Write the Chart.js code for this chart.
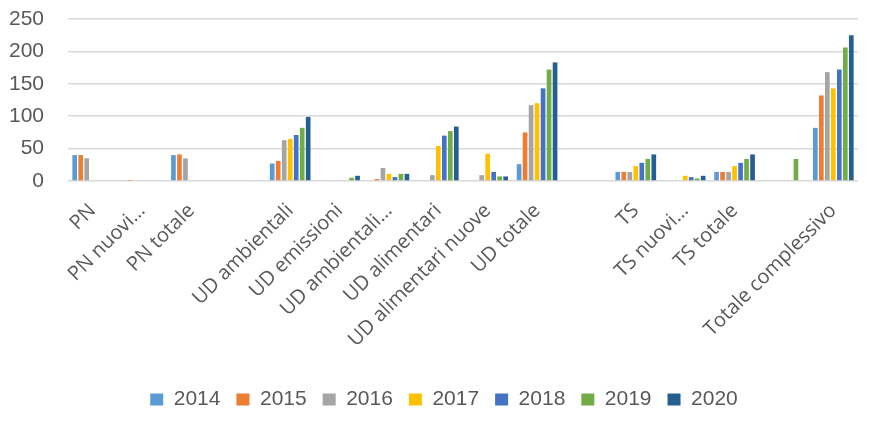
<!DOCTYPE html>
<html>
<head>
<meta charset="utf-8">
<script src="https://cdn.jsdelivr.net/npm/chart.js@4"></script>
<style>
  html, body { margin: 0; padding: 0; background: #fff; }
  #wrap { width: 877px; height: 432px; }
</style>
</head>
<body>
<div id="wrap"><canvas id="chart" width="877" height="432"></canvas></div>
<script>
const categories = ['PN', 'PN nuovi…', 'PN totale', '', 'UD ambientali', 'UD emissioni', 'UD ambientali…',
    'UD alimentari', 'UD alimentari nuove', 'UD totale', '', 'TS', 'TS nuovi…', 'TS totale', '', 'Totale complessivo'];

const years = ['2014', '2015', '2016', '2017', '2018', '2019', '2020'];
const colors = ['#5B9BD5', '#ED7D31', '#A5A5A5', '#FFC000', '#4472C4', '#70AD47', '#255E91'];

const v2014 = [40, null, 40, null, 27, null, null, null, null, 26, null, 14, null, 14, null, 82];
const v2015 = [40, 0.5, 41, null, 31, null, 3, null, null, 75, null, 14, null, 14, null, 132];
const v2016 = [35, null, 35, null, 63, null, 20, 9, 9, 117, null, 14, null, 14, null, 168];
const v2017 = [null, null, null, null, 65, null, 11, 54, 42, 120, null, 23, 8, 23, null, 143];
const v2018 = [null, null, null, null, 71, null, 6, 70, 14, 143, null, 28, 6, 28, null, 172];
const v2019 = [null, null, null, null, 82, 5, 11, 77, 7, 172, null, 34, 4, 34, 34, 206];
const v2020 = [null, null, null, null, 99, 8, 11, 84, 7, 183, null, 41, 8, 41, null, 225];

const yMax = 250;
const yStep = 50;

const series = [v2014, v2015, v2016, v2017, v2018, v2019, v2020];
const textColor = '#595959';

// the legend in the original sits a bit right of the canvas centre
const legendShift = {
    id: 'legendShift',
    afterLayout(chart) {
        chart.legend.left += 15;
        chart.legend.right += 15;
    }
};

const ctx = document.getElementById('chart').getContext('2d');
new Chart(ctx, {
    type: 'bar',
    data: {
        labels: categories,
        datasets: series.map((vals, i) => ({
            label: years[i],
            data: vals,
            backgroundColor: colors[i],
            categoryPercentage: 0.85,
            barPercentage: 0.78
        }))
    },
    options: {
        responsive: false,
        animation: false,
        layout: { padding: { top: 19, right: 19, left: 0, bottom: 12 } },
        scales: {
            x: {
                grid: { display: false },
                border: { display: false },
                ticks: {
                    autoSkip: false,
                    minRotation: 45,
                    maxRotation: 45,
                    padding: 10,
                    color: textColor,
                    font: { family: 'Open Sans', size: 20 }
                },
                afterFit: scale => { scale.height = 192; }
            },
            y: {
                min: 0,
                max: yMax,
                grid: { color: '#D9D9D9', lineWidth: 1.5, drawTicks: false },
                border: { display: false },
                ticks: {
                    stepSize: yStep,
                    autoSkip: false,
                    padding: 24,
                    color: textColor,
                    font: { family: 'Liberation Sans', size: 21 }
                },
                afterFit: scale => {
                    scale.width = 68;
                    scale.paddingTop = 0;
                    scale.paddingBottom = 0;
                }
            }
        },
        plugins: {
            legend: {
                position: 'bottom',
                labels: {
                    boxWidth: 13,
                    boxHeight: 12,
                    padding: 16,
                    color: textColor,
                    font: { family: 'Liberation Sans', size: 21 }
                }
            },
            tooltip: { enabled: false }
        }
    },
    plugins: [legendShift]
});
</script>
</body>
</html>
